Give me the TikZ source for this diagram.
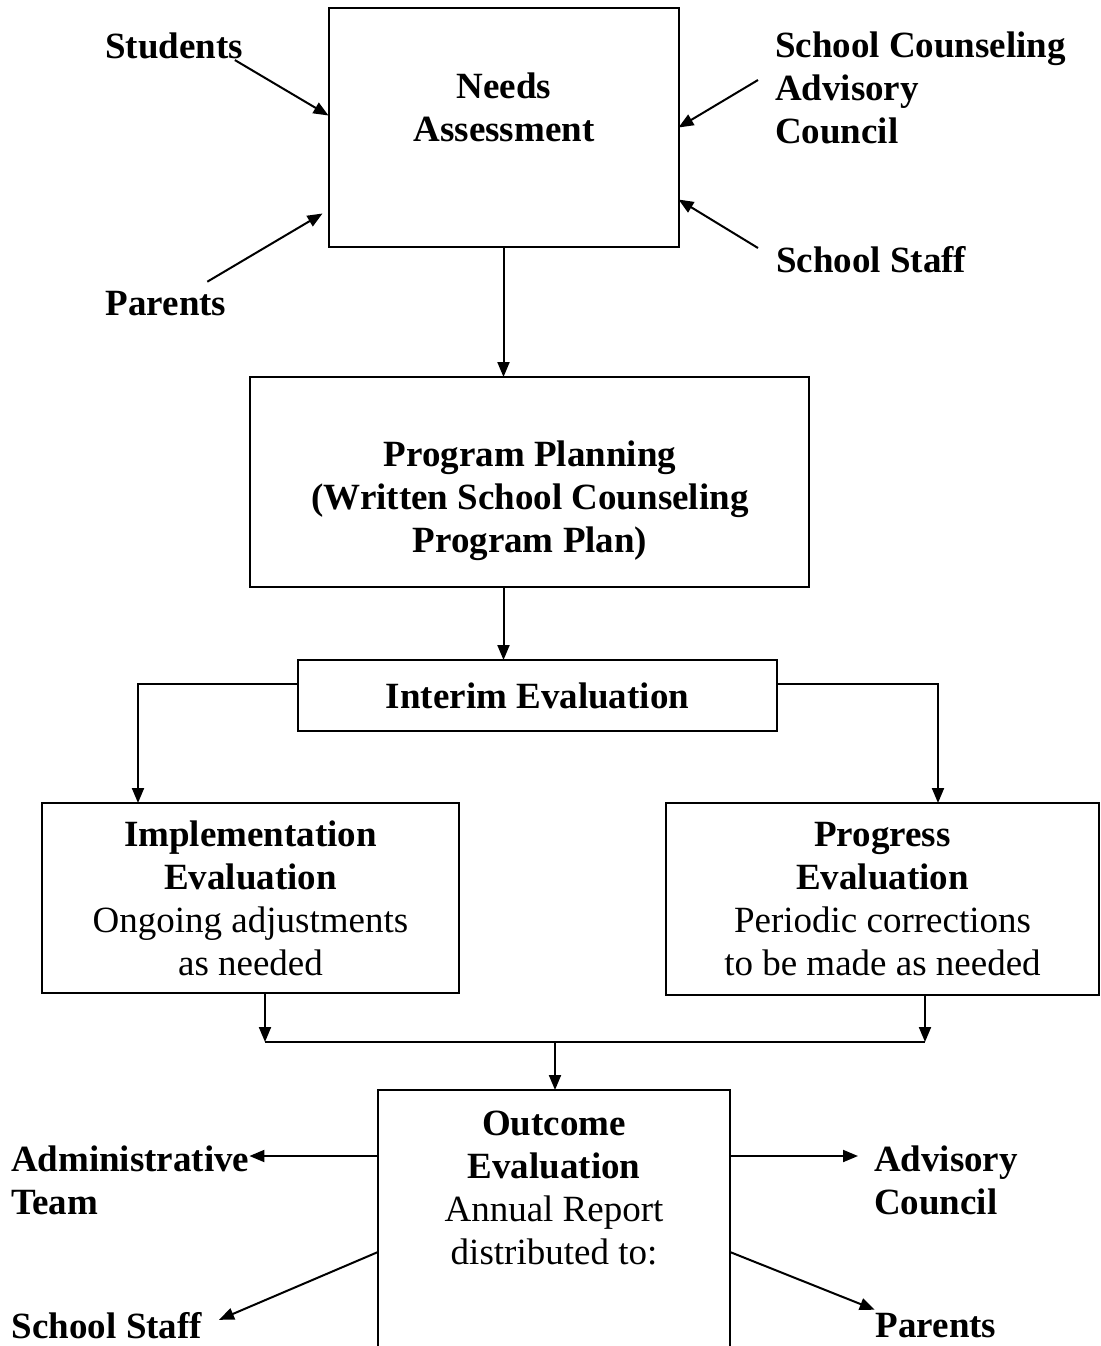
\documentclass[tikz,border=0pt]{standalone}
\usepackage{fontspec}
\setmainfont{Liberation Serif}
\usetikzlibrary{calc,arrows.meta}

\begin{document}
\fontsize{18.5}{21.5}\selectfont
\begin{tikzpicture}[
    x=0.5pt, y=-0.5pt,
    box/.style={draw, line width=1pt, inner sep=0pt, outer sep=0pt, align=center},
    txt/.style={inner sep=0pt, outer sep=0pt, align=center},
    lbl/.style={font=\bfseries, inner sep=0pt, outer sep=0pt, align=left},
    arr/.style={line width=1pt, -{Triangle[length=7.5pt,width=6pt]}},
    link/.style={line width=1pt}
]
    \useasboundingbox (0,0) rectangle (1101,1346);
    \clip (0,0) rectangle (1101,1346);
    % Boxes
    \node[box, minimum width=175pt, minimum height=119.5pt] (needs) at (503.5,127.5) {};
    \node[txt, font=\bfseries] (needstxt) at (504,107) {Needs\\Assessment};
    \node[box, minimum width=279.5pt, minimum height=105pt] (program) at (529.5,482) {};
    \node[txt, font=\bfseries] (programtxt) at (530,501) {Program Planning\\(Written School Counseling\\Program Plan)};
    \node[box, font=\bfseries, minimum width=239.5pt, minimum height=35.5pt] (interim) at (537.5,695.5) {Interim Evaluation};
    \node[box, minimum width=208.5pt, minimum height=95pt] (impl) at (250.5,898) {\textbf{Implementation}\\\textbf{Evaluation}\\Ongoing adjustments\\as needed};
    \node[box, minimum width=216.5pt, minimum height=96pt] (prog) at (882.5,899) {\textbf{Progress}\\\textbf{Evaluation}\\Periodic corrections\\to be made as needed};
    \node[box, minimum width=176pt, minimum height=200pt] (outcome) at (554,1290) {};
    \node[txt] (outcometxt) at (554,1188) {\textbf{Outcome}\\\textbf{Evaluation}\\Annual Report\\distributed to:};
    % Labels
    \node[lbl] (students) at (174,46) {Students};
    \node[lbl] (parents) at (166,304) {Parents};
    \node[lbl, anchor=west] (council) at (775,88) {School Counseling\\Advisory\\Council};
    \node[lbl, anchor=west] (staff) at (776,260) {School Staff};
    \node[lbl, anchor=west] (admin) at (11,1180) {Administrative\\Team};
    \node[lbl, anchor=west] (advisory) at (874,1180) {Advisory\\Council};
    \node[lbl] (staffout) at (107,1326) {School Staff};
    \node[lbl] (parentsout) at (936,1326) {Parents};
    % Inputs
    \draw[arr] ($(students.south east)+(-8,1)$) -- ($(needs.west)+(0,-12)$);
    \draw[arr] ($(parents.north east)+(-19,-10)$) -- ($(needs.west)+(-6,86)$);
    \draw[arr] ($(council.west)+(-17,-8)$) -- (needs.east);
    \draw[arr] ($(staff.west)+(-18,-12)$) -- ($(needs.east)+(0,72)$);
    % Flow
    \draw[arr] (needs.south) -- (needs.south |- program.north);
    \draw[arr] (needs.south |- program.south) -- (needs.south |- interim.north);
    \draw[arr] ($(interim.west)+(0,-12)$) -| ($(impl.north west)+(96,0)$);
    \draw[arr] ($(interim.east)+(0,-12)$) -| ($(prog.north west)+(272,0)$);
    \coordinate (mergeL) at (265,1042);
    \coordinate (mergeR) at (925,1042);
    \coordinate (merge) at (555,1042);
    \draw[arr] (impl.south -| mergeL) -- (mergeL);
    \draw[arr] (prog.south -| mergeR) -- (mergeR);
    \draw[link] (mergeL) -- (mergeR);
    \draw[arr] (merge) -- (outcome.north -| merge);
    % Outputs
    \coordinate (outL) at ($(outcome.north west)+(0,66)$);
    \coordinate (outR) at ($(outcome.north east)+(0,66)$);
    \draw[arr] (outL) -- (outL -| admin.east);
    \draw[arr] (outR) -- ($(outR -| advisory.west)+(-16,0)$);
    \draw[arr] ($(outcome.north west)+(0,162)$) -- ($(staffout.north east)+(17,7)$);
    \draw[arr] ($(outcome.north east)+(0,162)$) -- ($(parentsout.north west)+(-1,-4)$);
\end{tikzpicture}
\end{document}
